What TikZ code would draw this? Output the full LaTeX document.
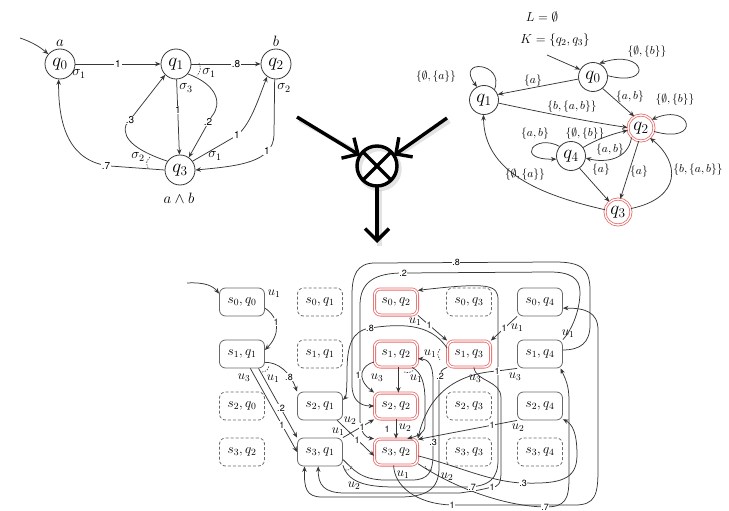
\RequirePackage{fix-cm}
\documentclass[tikz,border=0pt]{standalone}
\usepackage{fontspec}
\setsansfont{TeX Gyre Heros}
\usetikzlibrary{arrows.meta}
\definecolor{edgecol}{RGB}{55,55,55}
\definecolor{boxcol}{RGB}{105,105,105}
\definecolor{acc}{RGB}{232,105,105}
\begin{document}
\begin{tikzpicture}[x=1pt,y=-1pt,line join=round,
  ed/.style={draw=edgecol,line width=0.75pt,-{Stealth[length=5.5pt,width=4.5pt]}},
  ln/.style={draw=edgecol,line width=0.75pt},
  dsh/.style={draw=edgecol,line width=0.6pt,dash pattern=on 1.5pt off 1.2pt},
  mst/.style={circle,draw=edgecol,line width=0.8pt,minimum size=30pt,inner sep=0pt,font=\fontsize{19}{19}\selectfont},
  rst/.style={circle,draw=edgecol,line width=0.8pt,minimum size=29pt,inner sep=0pt,font=\fontsize{19}{19}\selectfont},
  rac/.style={rst,draw=acc,double=white,double distance=1.3pt,minimum size=26pt},
  pb/.style={rectangle,rounded corners=6pt,draw=boxcol,line width=0.8pt,minimum width=45pt,minimum height=28pt,inner sep=0pt,font=\fontsize{13.5}{13.5}\selectfont},
  pbd/.style={pb,dash pattern=on 3pt off 2pt},
  pba/.style={pb,draw=acc,double=white,double distance=1.4pt,minimum width=43pt,minimum height=26pt},
  pl/.style={font=\sffamily\fontsize{9}{9}\selectfont,fill=white,inner sep=0.6pt},
  plt/.style={font=\sffamily\fontsize{10}{10}\selectfont,fill=white,inner sep=0.8pt},
  al/.style={font=\fontsize{13}{13}\selectfont,inner sep=0pt},
  sg/.style={font=\fontsize{14}{14}\selectfont,inner sep=0pt},
  sl/.style={font=\fontsize{11.5}{11.5}\selectfont,inner sep=0pt},
  bigarrow/.style={line width=3.4pt,-{Straight Barb[length=12pt,width=24pt]}},
]
\useasboundingbox (0,0) rectangle (729,511);

% ---------- MDP (top left) ----------
\node[mst] (lq0) at (60,64) {$q_0$};
\node[mst] (lq1) at (176,64) {$q_1$};
\node[mst] (lq2) at (276,64) {$q_2$};
\node[mst] (lq3) at (180,170) {$q_3$};
\node[sg,font=\fontsize{15}{15}\selectfont] (la) at (60,43) {$a$};
\node[sg,font=\fontsize{15}{15}\selectfont] (lb) at (276,41) {$b$};
\node[sg,font=\fontsize{15}{15}\selectfont] (lab) at (179,198) {$a\wedge b$};
\coordinate (lin) at (20,38);
\draw[ed] (lin) .. controls (32,42) and (40,47) .. (lq0.140);
\draw[ed] (lq0) -- (lq1);
\draw[ed] (lq1) -- (lq2);
\draw[ed] (lq1) -- (lq3);
\draw[ed] (lq1.-40) .. controls (218,85) and (222,104) .. (212,116) -- (lq3.55);
\draw[ed] (lq3.145) .. controls (140,152) and (121,140) .. (126,125) -- (lq1.225);
\draw[ed] (lq3.180) -- (110,166) .. controls (72,162) and (58,130) .. (lq0.265);
\draw[ed] (lq3.35) -- (236,136) .. controls (250,126) and (258,100) .. (lq2.235);
\draw[ed] (lq2.265) -- (274,135) .. controls (273,162) and (240,166) .. (lq3.east);
\draw[dsh] (199,63) .. controls (201,69) .. (197,76);
\draw[dsh] (150,157) .. controls (146,162) .. (148,168);
\node[plt] at (118,64) {1};
\node[plt] at (236,64) {.8};
\node[plt] at (178,110) {1};
\node[plt] at (208,122) {.2};
\node[plt] at (130,120) {.3};
\node[plt] at (106,166) {.7};
\node[plt] at (237,135) {1};
\node[plt] at (267,151) {1};
\node[sg] at (79,74) {$\sigma_1$};
\node[sg] at (209,73) {$\sigma_1$};
\node[sg] at (186,88) {$\sigma_3$};
\node[sg] at (138,157) {$\sigma_2$};
\node[sg] at (215,156) {$\sigma_1$};
\node[sg] at (284,88) {$\sigma_2$};

% ---------- Rabin automaton (top right) ----------
\node[font=\fontsize{13}{13}\selectfont] (lL) at (542,17) {$L=\emptyset$};
\node[font=\fontsize{13}{13}\selectfont] (lK) at (555,40) {$K=\{q_2,q_3\}$};
\node[rst] (rq0) at (593,77) {$q_0$};
\node[rst] (rq1) at (484,100) {$q_1$};
\node[rac] (rq2) at (641,128) {$q_2$};
\node[rst] (rq4) at (571,156) {$q_4$};
\node[rac] (rq3) at (618,212) {$q_3$};
\coordinate (rin) at (547,55);
\draw[ed] (rin) -- (rq0.150);
\draw[ed] (rq0.5) .. controls (655,88) and (645,48) .. (rq0.65);
\draw[ed] (rq1.45) .. controls (505,62) and (455,58) .. (rq1.118);
\draw[ed] (rq0.188) -- (rq1.22);
\draw[ed] (rq0.-50) -- (rq2.120);
\draw[ed] (rq1.-12) .. controls (540,112) and (590,122) .. (rq2.178);
\draw[ed] (rq2.-15) .. controls (702,145) and (692,102) .. (rq2.38);
\draw[ed] (rq4.140) .. controls (535,133) and (514,160) .. (rq4.192);
\draw[ed] (rq4.35) .. controls (595,140) and (612,134) .. (rq2.190);
\draw[ed] (rq2.225) .. controls (628,160) and (605,163) .. (rq4.-8);
\draw[ed] (rq4.-55) -- (rq3.130);
\draw[ed] (rq2.-100) -- (rq3.80);
\draw[ed] (rq3.15) .. controls (682,198) and (680,162) .. (rq2.-48);
\draw[ed] (rq3.170) .. controls (540,195) and (484,172) .. (rq1.268);
\node[sl] at (647,52) {$\{\emptyset,\{b\}\}$};
\node[sl] at (436,77) {$\{\emptyset,\{a\}\}$};
\node[sl] at (533,81) {$\{a\}$};
\node[sl] at (630,97) {$\{a,b\}$};
\node[sl] at (572,107) {$\{b,\{a,b\}\}$};
\node[sl] at (675,100) {$\{\emptyset,\{b\}\}$};
\node[sl] at (535,134) {$\{a,b\}$};
\node[sl] at (585,134) {$\{\emptyset,\{b\}\}$};
\node[sl] at (610,150) {$\{a,b\}$};
\node[sl] at (601,170) {$\{a\}$};
\node[sl] at (639,172) {$\{a\}$};
\node[sl] at (698,170) {$\{b,\{a,b\}\}$};
\node[sl] at (525,175) {$\{\emptyset,\{a\}\}$};

% ---------- product operator ----------
\begin{scope}[shift={(2.5,3)},opacity=0.22]
  \draw[line width=4.5pt,gray] (377,166) circle[radius=20pt];
  \draw[line width=4.5pt,gray] (297,117) -- (356,150);
  \draw[line width=4.5pt,gray] (447,118) -- (398,150);
  \draw[line width=4.5pt,gray] (377,187) -- (377,243);
\end{scope}
\node[circle,draw,line width=3.4pt,minimum size=40pt,inner sep=0pt,outer sep=0pt] (ox) at (377,166) {};
\draw[line width=3.4pt] (ox.north east) -- (ox.south west);
\draw[line width=3.4pt] (ox.north west) -- (ox.south east);
\coordinate (oa) at (297,117);
\coordinate (ob) at (447,118);
\coordinate (oc) at (377,243);
\draw[bigarrow] (oa) -- (ox.148);
\draw[bigarrow] (ob) -- (ox.32);
\draw[bigarrow] (ox.south) -- (oc);

% ---------- product (bottom) ----------
\node[pb]  (n00) at (242,302) {$s_0,q_0$};
\node[pbd] (b01) at (320,302) {$s_0,q_1$};
\node[pba] (c02) at (396,302) {$s_0,q_2$};
\node[pbd] (d03) at (469,302) {$s_0,q_3$};
\node[pb]  (e04) at (540,302) {$s_0,q_4$};
\node[pb]  (n11) at (242,354) {$s_1,q_1$};
\node[pbd] (b11) at (320,354) {$s_1,q_1$};
\node[pba] (c12) at (396,354) {$s_1,q_2$};
\node[pba] (d13) at (469,354) {$s_1,q_3$};
\node[pb]  (e14) at (540,354) {$s_1,q_4$};
\node[pbd] (a20) at (242,406) {$s_2,q_0$};
\node[pb]  (b21) at (320,406) {$s_2,q_1$};
\node[pba] (c22) at (396,406) {$s_2,q_2$};
\node[pbd] (d23) at (469,406) {$s_2,q_3$};
\node[pb]  (e24) at (540,406) {$s_2,q_4$};
\node[pbd] (a32) at (242,452) {$s_3,q_2$};
\node[pb]  (b31) at (320,452) {$s_3,q_1$};
\node[pba] (c32) at (396,452) {$s_3,q_2$};
\node[pbd] (d33) at (469,452) {$s_3,q_3$};
\node[pbd] (e34) at (540,452) {$s_3,q_4$};

\coordinate (pin) at (187,283);
\draw[ed] (pin) .. controls (205,282) and (213,286) .. (n00.160);
\draw[ed] (n00.-15) .. controls (280,318) and (280,335) .. (n11.10);
\draw[ed] (n11.-20) .. controls (278,362) and (290,372) .. (b21.north west);
\draw[ed] (n11.-41) -- (b31.north west);
\draw[ed] (n11.-60) -- (b31.west);
\draw[ed] (b21.-40) -- (c32.190);
\draw[ed] (b31.north east) -- (c22.south west);
\draw[ed] (c22.south) -- (c32.north);
\draw[ed] (c02.south east) -- (d13.north west);
\draw[ed] (e04.south west) -- (d13.north east);
\draw[ed] (d13.165) .. controls (430,322) and (398,324) .. (370,328) .. controls (352,331) and (347,345) .. (347,372) .. controls (347,390) and (346,397) .. (b21.15);
\draw[ed] (d13.south west) .. controls (441,370) .. (439,380) -- (439,468) .. controls (439,490) and (425,497) .. (400,497) -- (322,497) .. controls (306,497) and (304,488) .. (b31.-137);
\draw[ed] (d13.-70) .. controls (476,382) and (501,380) .. (501,398) -- (501,472) .. controls (501,484) and (498,487) .. (492,487) .. controls (480,490) .. (460,493) -- (345,493) .. controls (324,493) and (318,485) .. (b31.-97);
\draw[ed] (b31.-18) .. controls (352,468) and (360,480) .. (385,480) -- (412,480) .. controls (428,480) and (433,472) .. (433,455) -- (433,380) .. controls (433,365) and (428,359) .. (c12.-12);
\draw[ed] (b31.-30) .. controls (348,482) and (365,487) .. (395,487) -- (465,487) .. controls (490,487) and (498,478) .. (498,460) -- (498,300) .. controls (498,285) and (490,282) .. (c02.28);
\draw[ed] (c32.-10) .. controls (455,465) and (490,482) .. (523,483) .. controls (560,484) and (577,480) .. (577,455) .. controls (577,432) and (572,424) .. (e24.-30);
\draw[ed] (c32.-28) .. controls (450,485) and (500,506) .. (545,507) .. controls (565,507) and (569,500) .. (569,478) -- (569,400) .. controls (569,385) and (565,378) .. (e14.-35);
\draw[ed] (c32.-100) .. controls (394,485) and (415,504) .. (452,505) -- (575,505) .. controls (595,505) and (598,495) .. (598,470) -- (598,330) .. controls (598,312) and (585,308) .. (e04.-15);
\draw[ed] (e14.10) .. controls (580,350) and (590,343) .. (590,325) -- (590,290) .. controls (590,268) and (580,262) .. (555,262) -- (375,263) .. controls (357,263) and (352,275) .. (352,295) -- (352,385) .. controls (352,400) and (360,406) .. (c22.west);
\draw[ed] (e14.north east) .. controls (572,330) and (580,310) .. (580,292) .. controls (580,278) and (570,272) .. (550,272) -- (403,273) .. controls (375,273) and (360,282) .. (360,305) -- (360,420) .. controls (360,432) and (366,438) .. (c32.north west);
\draw[ed] (e14.south west) -- (497,371) .. controls (455,374) and (428,395) .. (c32.north east);
\draw[ed] (e24.south west) -- (c32.30);
\draw[ed] (c12.-80) -- (c22.80);
\draw[ed] (c12.-40) .. controls (422,372) and (425,385) .. (425,400) -- (425,425) .. controls (425,433) and (418,436) .. (c32.50);
\draw[ed] (c12.200) .. controls (362,365) and (355,378) .. (c22.north west);

% action branching marks
\draw[dsh] (262,372) .. controls (267,371) .. (269,366);
\draw[dsh] (404,372) .. controls (409,373) .. (414,370);
\draw[dsh] (440,349) .. controls (437,354) .. (440,360);
\draw[dsh] (345,470) .. controls (350,470) .. (352,466);
\draw[dsh] (425,466) .. controls (427,470) .. (432,470);

% probabilities
\node[pl] at (276,322) {1};
\node[pl] at (289,377) {.8};
\node[pl] at (281,408) {.2};
\node[pl] at (282,425) {1};
\node[pl] at (456,262) {.8};
\node[pl] at (403,273) {.2};
\node[pl] at (370,328) {.8};
\node[pl] at (429,325) {1};
\node[pl] at (504,328) {1};
\node[pl] at (358,375) {1};
\node[pl] at (440,376) {.2};
\node[pl] at (497,371) {1};
\node[pl] at (362,427) {1};
\node[pl] at (357,440) {1};
\node[pl] at (387,429) {1};
\node[pl] at (492,425) {1};
\node[pl] at (433,442) {.3};
\node[pl] at (472,487) {.7};
\node[pl] at (523,483) {.3};
\node[pl] at (492,487) {1};
\node[pl] at (545,507) {.7};
\node[pl] at (452,505) {1};

% actions
\node[al] at (274,294) {$u_1$};
\node[al] at (244,378) {$u_3$};
\node[al] at (273,379) {$u_1$};
\node[al] at (350,421) {$u_2$};
\node[al] at (338,432) {$u_1$};
\node[al] at (354,486) {$u_2$};
\node[al] at (415,322) {$u_1$};
\node[al] at (517,328) {$u_1$};
\node[al] at (430,354) {$u_1$};
\node[al] at (475,379) {$u_3$};
\node[al] at (377,378) {$u_3$};
\node[al] at (416,379) {$u_1$};
\node[al] at (405,428) {$u_2$};
\node[al] at (403,475) {$u_1$};
\node[al] at (447,477) {$u_2$};
\node[al] at (568,334) {$u_1$};
\node[al] at (515,377) {$u_3$};
\node[al] at (518,428) {$u_2$};
\end{tikzpicture}
\end{document}
